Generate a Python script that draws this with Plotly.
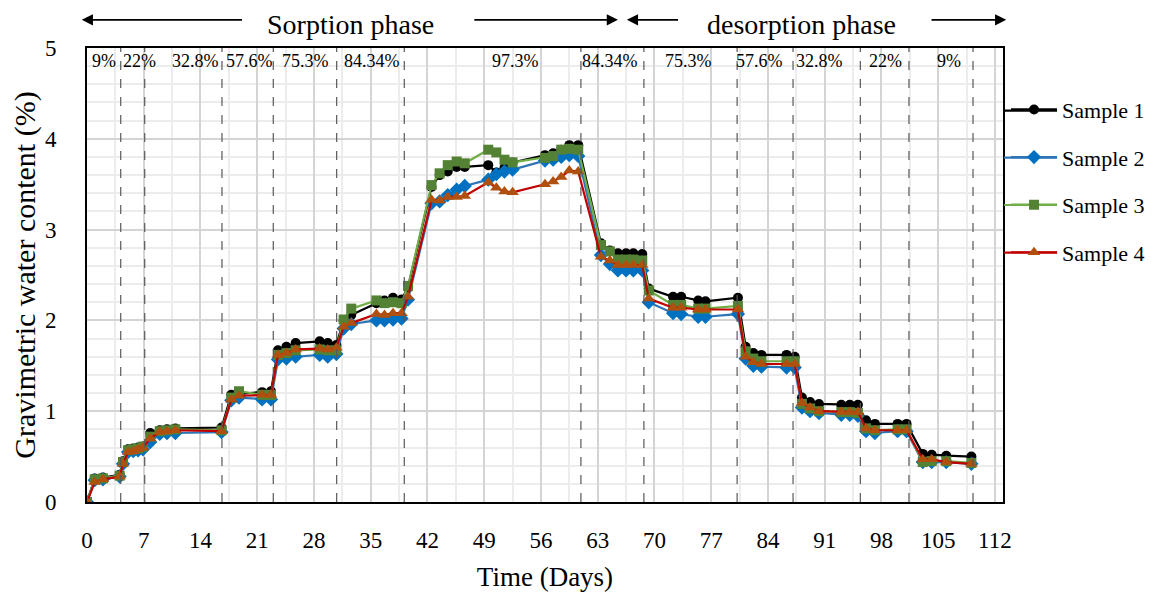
import plotly.graph_objects as go

# ---------------- data ----------------
days = [0, 0.95, 1.97, 4.03, 4.44, 5.06, 5.7, 6.3, 6.9, 7.8, 8.97, 9.87, 10.9,
        16.6, 17.8, 18.75, 21.6, 22.7,
        23.56, 24.6, 25.74, 28.7, 29.7, 30.76,
        31.66, 32.6, 35.7, 36.7, 37.75, 38.8, 39.6,
        42.5, 43.5, 44.5, 45.6, 46.6,
        49.5, 50.5, 51.5, 52.5,
        56.5, 57.5, 58.5, 59.5, 60.6,
        63.4, 64.5, 65.5, 66.5, 67.4, 68.5,
        69.3, 72.3, 73.3, 75.4, 76.3, 80.3,
        81.25, 82.2, 83.2, 86.3, 87.3,
        88.2, 89.2, 90.3, 93.05, 94.1, 95.1,
        96.1, 97.2, 100.0, 101.1,
        103.1, 104.2, 106.0, 109.1]

sample1 = [0, 0.26, 0.27, 0.30, 0.45, 0.58, 0.59, 0.60, 0.61, 0.76, 0.79, 0.80, 0.81,
           0.82, 1.18, 1.19, 1.21, 1.22,
           1.67, 1.71, 1.75, 1.77, 1.75, 1.73,
           2.00, 2.06, 2.19, 2.22, 2.25, 2.23, 2.36,
           3.47, 3.60, 3.64, 3.69, 3.69,
           3.71, 3.63, 3.68, 3.74,
           3.82, 3.84, 3.88, 3.93, 3.93,
           2.85, 2.77, 2.74, 2.74, 2.74, 2.73,
           2.35, 2.26, 2.26, 2.22, 2.21, 2.25,
           1.71, 1.64, 1.62, 1.62, 1.60,
           1.15, 1.10, 1.08, 1.07, 1.07, 1.07,
           0.90, 0.86, 0.86, 0.86,
           0.53, 0.52, 0.51, 0.50]

sample2 = [0, 0.24, 0.25, 0.28, 0.42, 0.55, 0.56, 0.57, 0.58, 0.66, 0.75, 0.76, 0.76,
           0.77, 1.12, 1.15, 1.13, 1.13,
           1.57, 1.58, 1.60, 1.62, 1.60, 1.63,
           1.91, 1.96, 2.00, 2.00, 2.01, 2.02, 2.23,
           3.29, 3.31, 3.38, 3.44, 3.48,
           3.55, 3.61, 3.64, 3.66,
           3.76, 3.77, 3.80, 3.82, 3.81,
           2.72, 2.62, 2.55, 2.55, 2.55, 2.55,
           2.20, 2.08, 2.07, 2.04, 2.04, 2.07,
           1.58, 1.50, 1.49, 1.48, 1.48,
           1.04, 1.00, 0.98, 0.96, 0.96, 0.95,
           0.78, 0.76, 0.78, 0.78,
           0.44, 0.44, 0.44, 0.42]

sample3 = [0, 0.25, 0.26, 0.29, 0.44, 0.57, 0.58, 0.59, 0.61, 0.72, 0.78, 0.79, 0.80,
           0.79, 1.15, 1.22, 1.18, 1.18,
           1.62, 1.64, 1.67, 1.68, 1.67, 1.67,
           2.01, 2.13, 2.22, 2.19, 2.20, 2.19, 2.38,
           3.49, 3.62, 3.71, 3.75, 3.73,
           3.88, 3.85, 3.77, 3.74,
           3.79, 3.81, 3.88, 3.89, 3.88,
           2.83, 2.76, 2.67, 2.67, 2.67, 2.66,
           2.33, 2.17, 2.17, 2.13, 2.13, 2.16,
           1.66, 1.58, 1.55, 1.55, 1.55,
           1.08, 1.03, 1.00, 0.99, 0.99, 0.98,
           0.81, 0.79, 0.80, 0.80,
           0.44, 0.45, 0.45, 0.43]

sample4 = [0, 0.22, 0.25, 0.28, 0.42, 0.55, 0.56, 0.58, 0.60, 0.70, 0.77, 0.78, 0.79,
           0.78, 1.13, 1.17, 1.18, 1.18,
           1.62, 1.64, 1.68, 1.69, 1.68, 1.70,
           1.93, 1.97, 2.07, 2.06, 2.08, 2.08, 2.26,
           3.33, 3.32, 3.36, 3.36, 3.37,
           3.52, 3.46, 3.42, 3.41,
           3.50, 3.53, 3.58, 3.65, 3.64,
           2.70, 2.66, 2.61, 2.61, 2.61, 2.61,
           2.24, 2.14, 2.14, 2.12, 2.12, 2.12,
           1.60, 1.54, 1.52, 1.52, 1.52,
           1.09, 1.04, 1.00, 0.99, 0.99, 0.99,
           0.81, 0.79, 0.79, 0.79,
           0.47, 0.47, 0.44, 0.42]

series_names = ["Sample 1", "Sample 2", "Sample 3", "Sample 4"]

# humidity step boundaries (days) and RH labels
phase_bounds = [4.16, 7.12, 16.65, 22.98, 30.8, 39.14, 60.93, 68.7, 80.2, 87.1, 95.4, 101.4, 109.3]
rh_label_x = [2.05, 6.5, 13.4, 20.1, 27.0, 35.1, 52.8, 64.5, 74.2, 83.0, 90.4, 98.5, 106.3]
rh_labels = ["9%", "22%", "32.8%", "57.6%", "75.3%", "84.34%", "97.3%",
             "84.34%", "75.3%", "57.6%", "32.8%", "22%", "9%"]

x_ticks = list(range(0, 113, 7))
y_ticks = [0, 1, 2, 3, 4, 5]

# ---------------- styling ----------------
FONT = "Liberation Serif"
styles = [
    dict(line="#000000", marker="#000000", symbol="circle", size=10),
    dict(line="#2E75B6", marker="#0070C0", symbol="diamond", size=11),
    dict(line="#70AD47", marker="#548235", symbol="square", size=10),
    dict(line="#C00000", marker="#B0500F", symbol="triangle-up", size=11),
]

fig = go.Figure()
for name, vals, st in zip(series_names, [sample1, sample2, sample3, sample4], styles):
    fig.add_trace(go.Scatter(
        x=days, y=vals, name=name, mode="lines+markers",
        legendgroup=name,
        line=dict(color=st["line"], width=2.2),
        marker=dict(color=st["marker"], symbol=st["symbol"], size=st["size"],
                    line=dict(width=0)),
    ))

shapes = []
for b in phase_bounds:
    shapes.append(dict(type="line", xref="x", yref="paper", x0=b, x1=b, y0=0, y1=1,
                       line=dict(color="#595959", width=1.2, dash="dash"), layer="above"))

# legend line extensions (Excel-style long legend keys)
legend_rows_y = [0.8619, 0.7584, 0.6542, 0.5491]
for st, ly in zip(styles, legend_rows_y):
    shapes.append(dict(type="line", xref="paper", yref="paper", x0=1.0011, x1=1.0590,
                       y0=ly, y1=ly, line=dict(color=st["line"], width=2.2)))

annotations = []
for xv, t in zip(rh_label_x, rh_labels):
    annotations.append(dict(x=xv, y=0.972, xref="x", yref="paper", text=t, showarrow=False,
                            font=dict(family=FONT, size=18, color="#000"),
                            xanchor="center", yanchor="middle"))

# phase headers
annotations.append(dict(x=32.5, y=1.051, xref="x", yref="paper", text="Sorption phase",
                        showarrow=False, font=dict(family=FONT, size=28, color="#000"),
                        xanchor="center", yanchor="middle"))
annotations.append(dict(x=88.2, y=1.051, xref="x", yref="paper", text="desorption phase",
                        showarrow=False, font=dict(family=FONT, size=28, color="#000"),
                        xanchor="center", yanchor="middle"))
arrows = [(-0.65, 19.3), (65.5, 47.6), (66.6, 73.1), (113.4, 104.0)]
for head, tail in arrows:
    annotations.append(dict(x=head, y=1.062, xref="x", yref="paper", ax=tail, ay=0,
                            axref="x", ayref="pixel", text="", showarrow=True,
                            arrowhead=2, arrowsize=1.4, arrowwidth=1.6, arrowcolor="#000"))

# page body has an 8px margin, so the figure is 8px smaller and margins shifted
fig.update_layout(
    width=1151, height=595,
    margin=dict(l=79, r=156, t=40, b=101, autoexpand=False),
    paper_bgcolor="white", plot_bgcolor="white",
    font=dict(family=FONT, size=22, color="#000"),
    shapes=shapes, annotations=annotations,
    showlegend=True,
    legend=dict(x=1.0033, y=0.9105, xanchor="left", yanchor="top",
                font=dict(family=FONT, size=22), itemwidth=46,
                tracegroupgap=16, bgcolor="rgba(0,0,0,0)", borderwidth=0),
    xaxis=dict(range=[0, 113], tickmode="array", tickvals=x_ticks, automargin=False,
               showgrid=True, gridcolor="#d4d4d4", gridwidth=1.5,
               minor=dict(dtick=3.5, tick0=0, showgrid=True, gridcolor="#ececec", gridwidth=1.5),
               showline=True, linecolor="#000", linewidth=2, mirror=True,
               ticks="", ticklabelstandoff=16, zeroline=False,
               tickfont=dict(family=FONT, size=23),
               title=dict(text="Time (Days)", font=dict(family=FONT, size=27), standoff=16)),
    yaxis=dict(range=[0, 5], tickmode="array", tickvals=y_ticks, automargin=False,
               showgrid=True, gridcolor="#d4d4d4", gridwidth=1.5,
               minor=dict(dtick=0.2, tick0=0, showgrid=True, gridcolor="#ececec", gridwidth=1.5),
               showline=True, linecolor="#000", linewidth=2, mirror=True,
               ticks="", ticklabelstandoff=24, zeroline=False,
               tickfont=dict(family=FONT, size=23),
               title=dict(text="Gravimetric water content (%)", font=dict(family=FONT, size=30), standoff=6)),
)

fig.write_html("out.html")
